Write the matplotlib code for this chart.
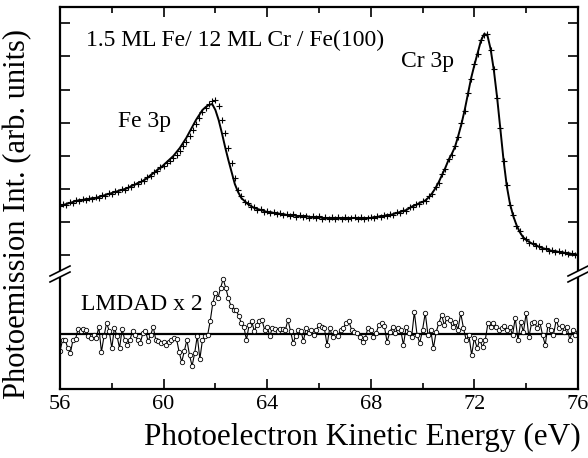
import numpy as np
import matplotlib
matplotlib.use("Agg")
import matplotlib.pyplot as plt
from matplotlib.patches import Polygon

plt.rcParams["font.family"] = ["Liberation Serif", "DejaVu Serif"]

# photoemission spectrum, 56..76 eV in 0.125 eV steps (arb. units)
spec_data = [
    49, 51, 50, 53, 52, 55, 54, 56,
    55, 57, 56, 58, 57, 60, 59, 62,
    61, 64, 63, 66, 65, 68, 68, 71,
    71, 74, 74, 78, 79, 83, 84, 88,
    89, 92, 94, 97, 100, 104, 109, 113,
    119, 125, 131, 137, 143, 147, 151, 154,
    155, 149, 135, 122, 107, 92, 77, 65,
    59, 53, 52, 48, 48, 45, 46, 43,
    44, 42, 43, 41, 42, 40, 41, 39,
    41, 38, 40, 38, 39, 37, 39, 37,
    39, 36, 38, 36, 38, 36, 38, 36,
    38, 36, 37, 38, 36, 38, 36, 37,
    38, 37, 39, 38, 40, 39, 41, 40,
    43, 42, 45, 44, 48, 48, 51, 51,
    54, 54, 59, 61, 68, 72, 81, 86,
    96, 100, 109, 118, 132, 144, 162, 176,
    191, 201, 215, 220, 221, 205, 186, 157,
    127, 94, 70, 50, 40, 29, 24, 17,
    16, 12, 12, 9, 9, 6, 7, 4,
    5, 3, 4, 2, 3, 1, 2, 0,
    1,
]
spec_fit = [
    50, 50, 51, 52, 53, 54, 55, 55,
    56, 56, 57, 57, 58, 59, 60, 61,
    62, 63, 64, 65, 66, 67, 69, 70,
    72, 73, 75, 77, 80, 82, 85, 87,
    90, 93, 96, 99, 103, 107, 112, 117,
    123, 129, 135, 140, 145, 148, 150, 151,
    145, 135, 122, 108, 95, 83, 71, 63,
    57, 54, 51, 49, 47, 46, 45, 44,
    43, 43, 42, 42, 41, 41, 40, 40,
    40, 39, 39, 39, 39, 38, 38, 38,
    38, 37, 37, 37, 37, 37, 37, 37,
    37, 37, 37, 37, 37, 37, 37, 37,
    37, 38, 38, 39, 39, 40, 40, 41,
    42, 43, 44, 45, 47, 49, 50, 52,
    53, 55, 58, 62, 67, 73, 80, 87,
    95, 101, 108, 119, 131, 145, 161, 177,
    190, 202, 214, 221, 220, 206, 185, 158,
    126, 95, 69, 51, 39, 30, 23, 18,
    15, 13, 11, 10, 8, 7, 6, 5,
    4, 4, 3, 3, 2, 2, 1, 1,
    0,
]

# LMDAD (x2), 56..66 eV and 66.1..76 eV
lmdad_lo = [
    -17, -6, -6, -14, -19, -6, -5, 5, 3, 5,
    4, -2, -4, -1, -4, 7, -18, -2, 11, 3,
    -14, 6, -2, -14, 5, -6, -11, -6, 3, -1,
    -6, -9, 1, 3, -7, -1, 7, -6, -7, -9,
    -8, -11, -8, -6, -4, -5, -18, -28, -17, -6,
    -21, -32, -19, -2, -25, -6, -2, -1, 13, 31,
    41, 36, 46, 55, 46, 36, 28, 24, 24, 18,
    11, 7, -6, 9, 13, 3, 9, 13, 14, 4,
    7, -2, 6, 5, 3, 5, 5, 4, 14, 3,
    -9, -2, 4, 3, -7, 6, 1, 4, -1, 4,
    9,
]
lmdad_hi = [
    7, 6, -11, 6, -3, 2, -2, 4, 6, 11,
    13, 4, 2, 1, -3, -8, -4, 6, 4, -3,
    1, 9, 11, 8, -8, 2, 7, 1, 6, 4,
    -11, 7, 1, -3, 22, -1, -9, 4, 21, -1,
    4, -14, 2, 11, 19, 9, 16, 14, 7, 12,
    4, 21, 6, -6, -1, -21, -4, -14, -6, -13,
    -6, 11, 7, 11, 7, 4, 6, 8, 4, 7,
    -1, 16, -6, 12, 2, 21, -3, 11, 12, 6,
    12, -1, -11, 9, 4, -1, 14, 6, 8, 2,
    7, -6, 4, -1, 2,
]

energy = np.linspace(56, 76, len(spec_data))
energy_fit = np.linspace(56, 76, len(spec_fit))
e_diff = np.concatenate([np.linspace(56, 66, len(lmdad_lo)),
                         np.linspace(66.1, 76, len(lmdad_hi))])
lmdad = np.array(lmdad_lo + lmdad_hi, dtype=float)
diff_zero = -79          # baseline of the difference curve (lower panel)

W, H = 588, 458
fig = plt.figure(figsize=(W / 100, H / 100), dpi=100)
ax = fig.add_axes([60 / W, 69 / H, 518 / W, 382 / H])

ax.plot(energy, spec_data, ls="none", marker="+", ms=5, mew=0.8, color="black")
ax.plot(energy_fit, spec_fit, "-", lw=1.4, color="black")

ax.axhline(diff_zero, color="black", lw=1.6)
ax.plot(e_diff, diff_zero + lmdad, "-", lw=0.8, color="black",
        marker="o", ms=3.2, mfc="white", mec="black", mew=0.6)

ax.set_xlim(56, 76)
ax.set_ylim(-134, 248)
ax.set_xticks(np.arange(56, 77, 4))
ax.set_xticks(np.arange(56, 77, 2), minor=True)
ax.set_yticks(np.arange(8) * 33.1)
ax.set_yticklabels([])
ax.tick_params(axis="both", which="both", direction="in", top=True, right=True,
               width=1.2)
ax.tick_params(axis="x", which="major", length=7, labelsize=16, pad=4)
ax.tick_params(axis="x", which="minor", length=4)
ax.tick_params(axis="y", which="major", length=7)
for s in ax.spines.values():
    s.set_linewidth(1.6)

# axis-break marks on both sides
yb = (389 - 274) / 382
dx, dy, gap = 10 / 518, 5 / 382, 3 / 382
for xb in (0.0, 1.0):
    ax.add_patch(Polygon([(xb - dx, yb - dy - gap), (xb + dx, yb + dy - gap),
                          (xb + dx, yb + dy + gap), (xb - dx, yb - dy + gap)],
                         closed=True, transform=ax.transAxes, fc="white",
                         ec="none", clip_on=False, zorder=5))
    for off in (-gap, gap):
        ax.plot([xb - dx, xb + dx], [yb - dy + off, yb + dy + off],
                transform=ax.transAxes, color="black", lw=1.2,
                clip_on=False, zorder=6)

ax.text(57.0, 215, "1.5 ML Fe/ 12 ML Cr / Fe(100)", fontsize=17, va="center")
ax.text(58.25, 133, "Fe 3p", fontsize=17, va="center")
ax.text(69.15, 193, "Cr 3p", fontsize=17, va="center")
ax.text(56.8, -49, "LMDAD x 2", fontsize=17, va="center")

fig.text(362 / W, 1 - 437 / H, "Photoelectron Kinetic Energy (eV)",
         fontsize=22.5, ha="center", va="center")
fig.text(18 / W, 1 - 214 / H, "Photoemission Int. (arb. units)",
         fontsize=22, ha="center", va="center", rotation=90)

fig.savefig("out.png", dpi=100)
